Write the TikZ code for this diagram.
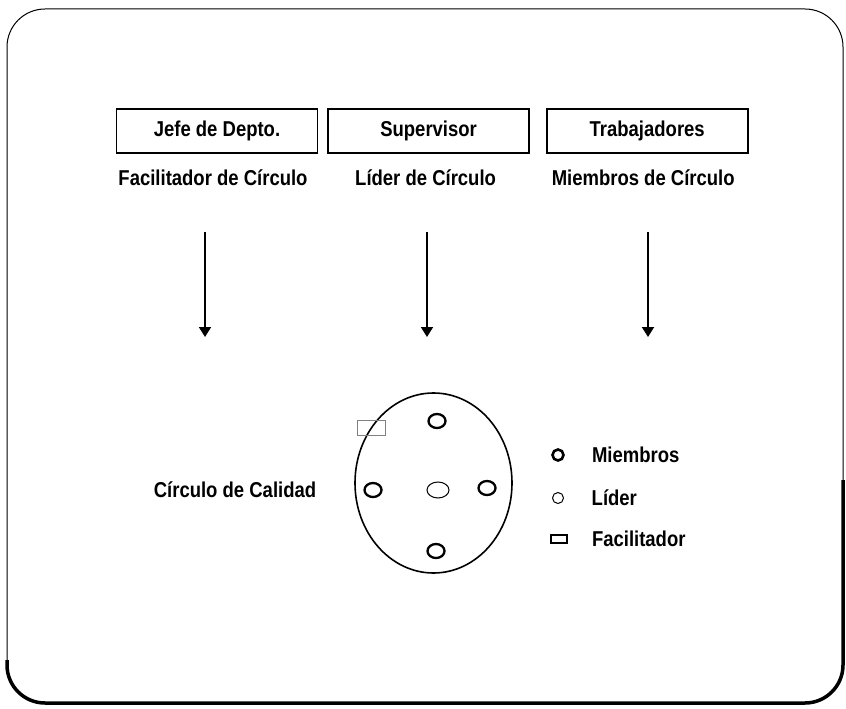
\documentclass[tikz,border=0pt]{standalone}
\usepackage{fontspec}
\setmainfont{Liberation Sans}
\newfontfamily\narrowsf{Liberation Sans}[FakeStretch=0.86]
\usetikzlibrary{arrows.meta, positioning, shapes.geometric}

\begin{document}
\begin{tikzpicture}[
  x=1pt, y=-1pt,
  every node/.style={font=\narrowsf\bfseries\fontsize{21.5}{24}\selectfont, inner sep=3pt},
  rolebox/.style={draw, line width=1.6pt, minimum width=201pt,
                  minimum height=44pt, inner sep=0pt},
  circulo/.style={draw, ellipse, line width=1.6pt, minimum width=157pt,
                  minimum height=180pt, inner sep=0pt},
  member/.style={draw, ellipse, line width=2.3pt, minimum width=17pt,
                 minimum height=14pt, inner sep=0pt},
  leader/.style={draw, ellipse, line width=1pt, minimum width=22pt,
                 minimum height=16pt, inner sep=0pt},
  facrect/.style={draw=gray, line width=1pt, minimum width=28pt,
                  minimum height=15pt, inner sep=0pt},
  arrow/.style={-{Triangle[width=12pt,length=10pt]}, line width=1.8pt}
]
\useasboundingbox (0,0) rectangle (846,709);

% Frame
\draw[line width=1pt, rounded corners=38pt] (7,9) rectangle (843,703);
\draw[line width=3.5pt, rounded corners=38pt] (843,480) -- (843,703) -- (7,703) -- (7,660);

% Row 1 — Roles
\node[rolebox] (jefe) at (217,131) {Jefe de Depto.};
\node[rolebox, right=9pt of jefe] (superv) {Supervisor};
\node[rolebox, right=16pt of superv] (trab) {Trabajadores};

% Row 2 — Circle roles
\node[below=13pt of jefe, xshift=-4pt] (facil) {Facilitador de Círculo};
\node[below=13pt of superv, xshift=-3pt] (lider) {Líder de Círculo};
\node[below=13pt of trab, xshift=-4pt] (miemb) {Miembros de Círculo};

% Arrows
\coordinate (a1top) at (205,232);
\coordinate (a1tip) at (205,337);
\coordinate (a2top) at (427,232);
\coordinate (a2tip) at (427,337);
\coordinate (a3top) at (648,232);
\coordinate (a3tip) at (648,337);
\draw[arrow] (a1top) -- (a1tip);
\draw[arrow] (a2top) -- (a2tip);
\draw[arrow] (a3top) -- (a3tip);

% Circle of quality
\node (calidad) at (235,490) {Círculo de Calidad};
\node[circulo] (circ) at (433.5,483) {};
\node[member] (m1) at (437,421) {};
\node[member] (m2) at (373,490) {};
\node[member] (m3) at (487,488) {};
\node[member] (m4) at (436,551) {};
\node[leader] (ld) at (438,490) {};
\node[facrect] (fc) at (371,427.5) {};

% Legend
\node[member, minimum width=11pt, minimum height=11pt, line width=2.6pt] (legm) at (558,455) {};
\node[right=24pt of legm] (legmtxt) {Miembros};
\node[leader, minimum width=11pt, minimum height=11pt] (legl) at (558,498) {};
\node[right=24.5pt of legl] (legltxt) {Líder};
\node[facrect, draw=black, line width=1.6pt, minimum width=16pt,
      minimum height=8pt] (legf) at (559,539) {};
\node[right=21pt of legf] (legftxt) {Facilitador};

\end{tikzpicture}
\end{document}
